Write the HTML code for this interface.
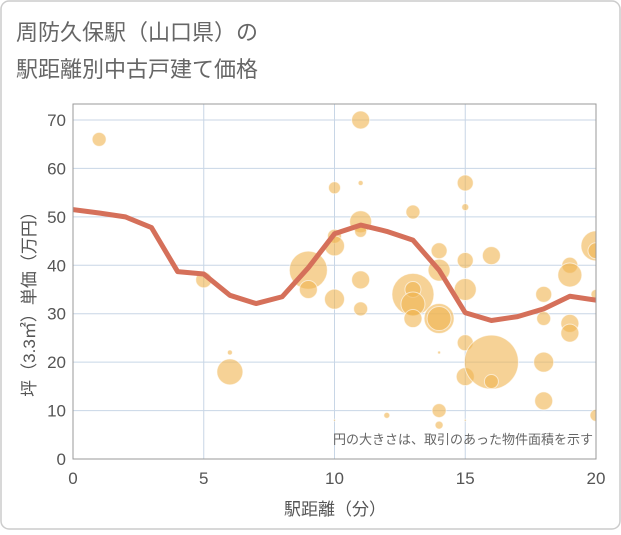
<!DOCTYPE html>
<html><head><meta charset="utf-8"><style>
body{margin:0;background:#fff;font-family:"Liberation Sans","Noto Sans CJK JP",sans-serif}
</style></head><body>
<svg width="621" height="530" xmlns="http://www.w3.org/2000/svg">
<defs><clipPath id="pc"><rect x="73" y="104" width="523" height="355"/></clipPath></defs>
<rect x="1" y="1" width="619" height="528" rx="8" fill="#fff" stroke="#ccc" stroke-width="1.5"/>
<text x="16" y="40" font-size="22" fill="#666" font-family="Liberation Sans, Noto Sans CJK JP, sans-serif">周防久保駅（山口県）の</text>
<text x="16" y="77" font-size="22" fill="#666" font-family="Liberation Sans, Noto Sans CJK JP, sans-serif">駅距離別中古戸建て価格</text>
<g id="grid"></g>
<g id="bubbles" clip-path="url(#pc)"></g>
<g id="line" clip-path="url(#pc)"></g>
<rect x="73" y="104" width="523" height="355" fill="none" stroke="#999" stroke-width="1"/>
<g id="ticks"></g>
<text x="335" y="515" text-anchor="middle" font-size="17" fill="#555" font-family="Liberation Sans, Noto Sans CJK JP, sans-serif">駅距離（分）</text>
<text transform="translate(35,300) rotate(-90)" text-anchor="middle" font-size="17" fill="#555" font-family="Liberation Sans, Noto Sans CJK JP, sans-serif">坪（3.3㎡）単価（万円）</text>
<text x="593" y="444" text-anchor="end" font-size="13" fill="#666" font-family="Liberation Sans, Noto Sans CJK JP, sans-serif">円の大きさは、取引のあった物件面積を示す</text>
</svg>
<script>
const xTicks=[0,5,10,15,20];
const yTicks=[0,10,20,30,40,50,60,70];
const bx=[1,5,6,6,9,9,10,10,10,10,10,11,11,11,11,11,11,12,13,13,13,13,13,14,14,14,14,14,14,14,15,15,15,15,15,15,15,16,16,16,18,18,18,18,19,19,19,19,20,20,20,20];
const by=[66,37,22,18,39,35,56,46,44,33,8,70,57,49,47,37,31,9,51,34,35,32,29,43,39,29,29,22,10,7,57,52,41,35,24,17,8,42,20,16,34,29,20,12,40,38,28,26,44,43,34,9];
const bs=[7,8,2.5,13,19,9,6,7,10,10,1,9,2.5,11,6,9,7,3,7,21,8,12,9,8,11,15,12,1.5,7,4,8,3.5,8,11,8,9,1,9,27,7,8,7,10,9,8,12,9,9,15,8,5,6];
const lx=[0,1,2,3,4,5,6,7,8,9,10,11,12,13,14,15,16,17,18,19,20];
const ly=[51.5,50.8,50,47.8,38.7,38.2,33.8,32.1,33.5,39.5,46.5,48.3,47,45.2,39,30.2,28.6,29.4,31,33.6,32.8];
const NS="http://www.w3.org/2000/svg";
const X=v=>73+v*523/20, Y=v=>459-v*339/70;
function mk(t,a,p){const e=document.createElementNS(NS,t);for(const k in a)e.setAttribute(k,a[k]);p.appendChild(e);return e;}
const grid=document.getElementById('grid'),ticks=document.getElementById('ticks');
xTicks.forEach(v=>{const l=mk('line',{x1:X(v),x2:X(v),y1:104,y2:459,stroke:'#c8d6e6','stroke-width':1},grid);


const t=mk('text',{x:X(v),y:484,'text-anchor':'middle','font-size':17,fill:'#555'},ticks);t.textContent=v;

});
yTicks.forEach(v=>{const l=mk('line',{x1:73,x2:596,y1:Y(v),y2:Y(v),stroke:'#c8d6e6','stroke-width':1},grid);


const t=mk('text',{x:66,y:Y(v)+6,'text-anchor':'end','font-size':17,fill:'#555'},ticks);t.textContent=v;

});
const bg=document.getElementById('bubbles');
bx.forEach((v,i)=>{const c=mk('circle',{cx:X(v),cy:Y(by[i]),r:bs[i],fill:'rgba(240,180,80,0.6)',stroke:'rgba(255,255,255,0.6)','stroke-width':1},bg);

});
const p=mk('polyline',{points:lx.map((v,i)=>X(v)+','+Y(ly[i])).join(' '),fill:'none',stroke:'#d5705a','stroke-width':5,'stroke-linejoin':'round'},document.getElementById('line'));


</script>
</body></html>
